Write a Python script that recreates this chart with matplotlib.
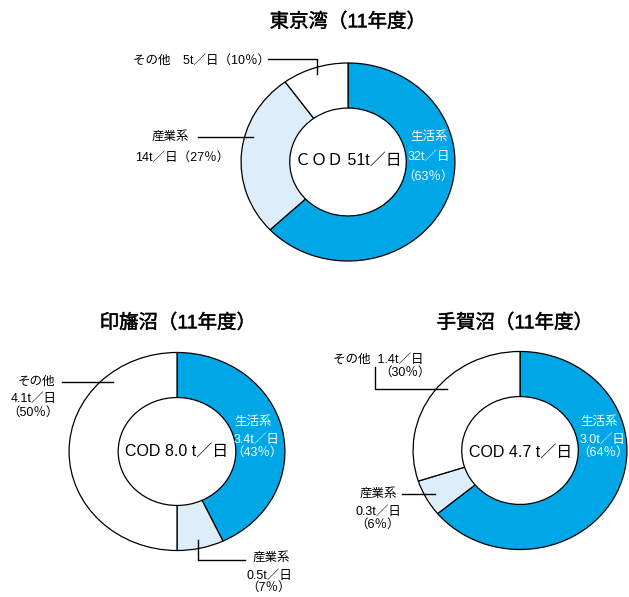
import matplotlib
matplotlib.use("Agg")
import matplotlib.pyplot as plt
import matplotlib.patheffects as pe

plt.rcParams['font.family'] = ['Liberation Sans', 'Noto Sans CJK JP', 'DejaVu Sans']

# COD load shares (%) and loads (t/day), order: 生活系, 産業系, その他
sources = ["生活系", "産業系", "その他"]
tokyo_pct = [63, 27, 10]
tokyo_load = ["32t", "14t", "5t"]
inba_pct = [43, 7, 50]
inba_load = ["3.4t", "0.5t", "4.1t"]
teganuma_pct = [64, 6, 30]
teganuma_load = ["3.0t", "0.3t", "1.4t"]

titles = ["東京湾（11年度）", "印旛沼（11年度）", "手賀沼（11年度）"]
totals = ["ＣＯＤ 51t／日", "COD 8.0 t／日", "COD 4.7 t／日"]

colors = ["#00a7e6", "#ddeefa", "#ffffff"]
W, H = 629, 597


def donut(cx, cy, rh, rv, pct, inner=0.545):
    # axes box spans the outer ellipse so the ring is slightly wider than tall
    ax = fig.add_axes([(cx - rh) / W, (H - cy - rv) / H, 2 * rh / W, 2 * rv / H])
    ax.pie(pct, colors=colors, startangle=90, counterclock=False, radius=1,
           wedgeprops=dict(width=1 - inner, edgecolor="black", linewidth=0.9))
    ax.set_xlim(-1.01, 1.01)
    ax.set_ylim(-1.01, 1.01)
    ax.set_aspect("auto")
    ax.axis("off")
    return ax


fig = plt.figure(figsize=(W / 100, H / 100), dpi=100)

donut(348, 162, 108, 100, tokyo_pct)
donut(177, 451.5, 109, 100, inba_pct)
donut(520, 450.5, 108, 100, teganuma_pct)

# overlay in pixel coordinates for titles, labels and leader lines
ov = fig.add_axes([0, 0, 1, 1])
ov.set_xlim(0, W)
ov.set_ylim(H, 0)
ov.axis("off")
ov.patch.set_alpha(0)

lab = dict(fontsize=9, va="center")
wht = dict(fontsize=9, va="center", ha="center", color="white")
line = dict(color="black", linewidth=1.0)

# titles (slightly thickened) and totals
heavy = [pe.withStroke(linewidth=0.3, foreground="black")]
for (x, y), t in zip([(348, 22), (178, 323), (515, 323)], titles):
    ov.text(x, y, t, fontsize=14, ha="center", va="center", path_effects=heavy)
for (x, y), t in zip([(348, 160), (177, 451), (521, 452)], totals):
    ov.text(x, y, t, fontsize=11.5, ha="center", va="center")

# 東京湾
ov.text(133, 61, f"{sources[2]}　{tokyo_load[2]}／日（{tokyo_pct[2]}％）", ha="left", **lab)
ov.plot([268, 317, 317], [59, 59, 74], **line)
ov.text(152, 137, sources[1], ha="left", **lab)
ov.plot([198, 253], [137, 137], **line)
ov.text(135, 158, f"{tokyo_load[1]}／日（{tokyo_pct[1]}％）", ha="left", **lab)
ov.text(429, 137, sources[0], **wht)
ov.text(429, 157, f"{tokyo_load[0]}／日", **wht)
ov.text(428, 177, f"（{tokyo_pct[0]}％）", **wht)

# 印旛沼
ov.text(36, 382, sources[2], ha="center", **lab)
ov.plot([62, 113], [382, 382], **line)
ov.text(34, 399, f"{inba_load[2]}／日", ha="center", **lab)
ov.text(33, 413, f"（{inba_pct[2]}％）", ha="center", **lab)
ov.text(253, 422, sources[0], **wht)
ov.text(257, 440, f"{inba_load[0]}／日", **wht)
ov.text(257, 453, f"（{inba_pct[0]}％）", **wht)
ov.plot([198, 198, 245], [540, 560, 560], **line)
ov.text(271, 558, sources[1], ha="center", **lab)
ov.text(269, 576, f"{inba_load[1]}／日", ha="center", **lab)
ov.text(269, 588, f"（{inba_pct[1]}％）", ha="center", **lab)

# 手賀沼
ov.text(333, 360, f"{sources[2]}  {teganuma_load[2]}／日", ha="left", **lab)
ov.text(405, 373, f"（{teganuma_pct[2]}％）", ha="center", **lab)
ov.plot([375, 375, 447], [367, 389, 389], **line)
ov.text(599, 422, sources[0], **wht)
ov.text(603, 440, f"{teganuma_load[0]}／日", **wht)
ov.text(603, 453, f"（{teganuma_pct[0]}％）", **wht)
ov.text(378, 494, sources[1], ha="center", **lab)
ov.plot([402, 435], [494, 494], **line)
ov.text(378, 512, f"{teganuma_load[1]}／日", ha="center", **lab)
ov.text(378, 525, f"（{teganuma_pct[1]}％）", ha="center", **lab)

fig.savefig("out.png", dpi=100)
